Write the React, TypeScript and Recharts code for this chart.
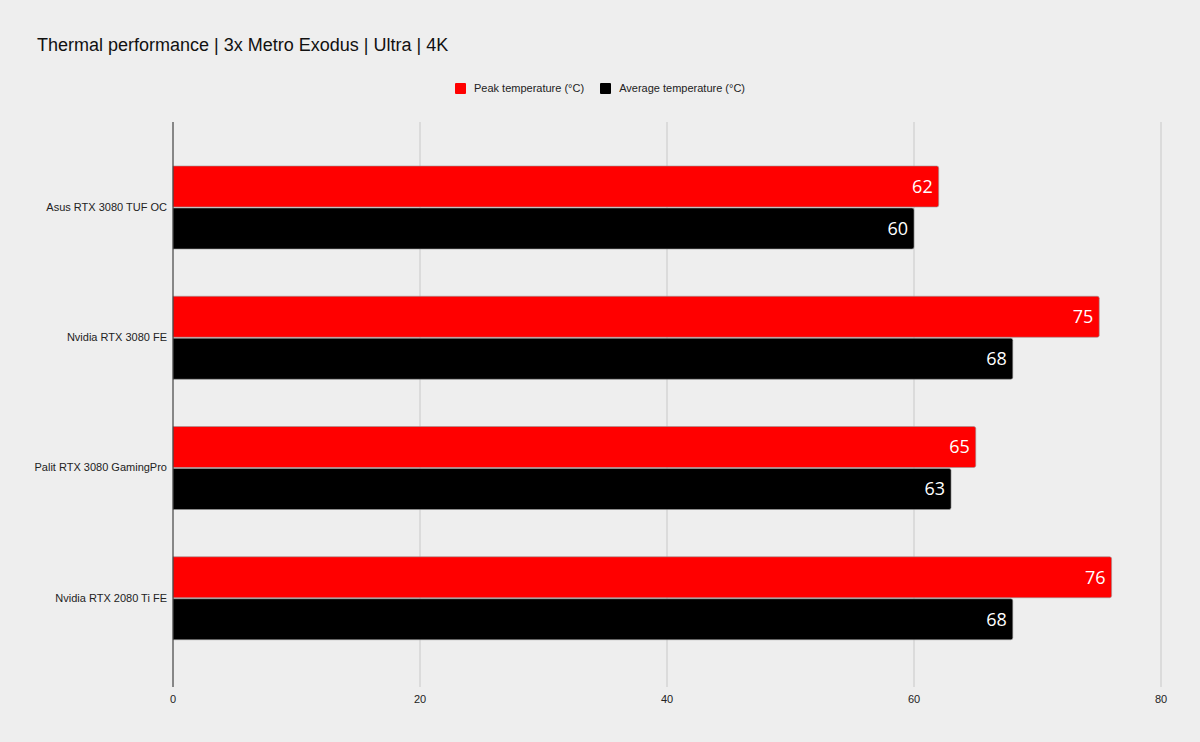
import React from "react";
import {
  Bar,
  BarChart,
  CartesianGrid,
  LabelList,
  XAxis,
  YAxis,
} from "recharts";

const categories = [
  "Asus RTX 3080 TUF OC",
  "Nvidia RTX 3080 FE",
  "Palit RTX 3080 GamingPro",
  "Nvidia RTX 2080 Ti FE",
];
const peakTemps = [62, 75, 65, 76];
const avgTemps = [60, 68, 63, 68];
const xTicks = [0, 20, 40, 60, 80];
const seriesNames = ["Peak temperature (°C)", "Average temperature (°C)"];
const seriesColors = ["#ff0000", "#000000"];

const data = categories.map((name, i) => ({
  name,
  peak: peakTemps[i],
  avg: avgTemps[i],
}));

const FONT = "'Liberation Sans', Arial, sans-serif";

// category label on one line, no wrapping
const CategoryTick = ({ x, y, payload }: any) => (
  <text
    x={x + 2}
    y={y}
    dy="0.35em"
    textAnchor="end"
    fontSize={11}
    fontFamily={FONT}
    fill="#222"
  >
    {payload.value}
  </text>
);

export default function App() {
  return (
    <div
      style={{
        position: "absolute",
        top: 0,
        left: 0,
        width: 1200,
        height: 742,
        background: "#eeeeee",
      }}
    >
      {/* chart title */}
      <div
        style={{
          position: "absolute",
          left: 37,
          top: 35,
          fontFamily: FONT,
          fontSize: "18px",
          color: "#111",
        }}
      >
        Thermal performance | 3x Metro Exodus | Ultra | 4K
      </div>
      {/* legend */}
      <div
        style={{
          position: "absolute",
          top: 82,
          left: 0,
          width: 1200,
          display: "flex",
          justifyContent: "center",
          fontFamily: FONT,
          fontSize: "11px",
          color: "#222",
        }}
      >
        {seriesNames.map((n, i) => (
          <div
            key={n}
            style={{ display: "flex", alignItems: "center", margin: "0 8px" }}
          >
            <span
              style={{
                display: "inline-block",
                width: 11,
                height: 11,
                borderRadius: 1,
                background: seriesColors[i],
                marginRight: 8,
              }}
            />
            {n}
          </div>
        ))}
      </div>
      <div style={{ position: "absolute", top: 0, left: 0 }}>
        <BarChart
          width={1200}
          height={742}
          data={data}
          layout="vertical"
          barSize={41}
          barGap={1}
          margin={{ top: 122, right: 39, left: 0, bottom: 25 }}
        >
          <CartesianGrid horizontal={false} stroke="#c8c8c8" />
          <XAxis
            type="number"
            domain={[0, 80]}
            ticks={xTicks}
            axisLine={false}
            tickLine={false}
            height={30}
            tick={{ fontSize: 11, fill: "#222", fontFamily: FONT }}
          />
          <YAxis
            type="category"
            dataKey="name"
            width={173}
            padding={{ top: 20, bottom: 24 }}
            axisLine={{ stroke: "#333" }}
            tickLine={false}
            tick={<CategoryTick />}
          />
          <Bar
            dataKey="peak"
            name={seriesNames[0]}
            fill={seriesColors[0]}
            stroke="#999"
            strokeWidth={0.6}
            radius={[0, 2, 2, 0]}
            isAnimationActive={false}
          >
            <LabelList
              dataKey="peak"
              position="insideRight"
              offset={6}
              fill="#ffffff"
              fontSize={18}
              fontFamily="'Open Sans', sans-serif"
            />
          </Bar>
          <Bar
            dataKey="avg"
            name={seriesNames[1]}
            fill={seriesColors[1]}
            stroke="#999"
            strokeWidth={0.6}
            radius={[0, 2, 2, 0]}
            isAnimationActive={false}
          >
            <LabelList
              dataKey="avg"
              position="insideRight"
              offset={6}
              fill="#ffffff"
              fontSize={18}
              fontFamily="'Open Sans', sans-serif"
            />
          </Bar>
        </BarChart>
      </div>
    </div>
  );
}
